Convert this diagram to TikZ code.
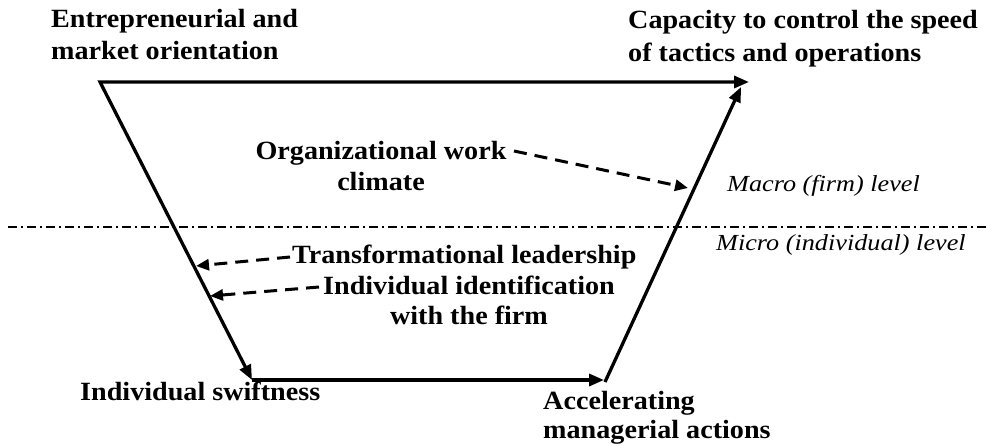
\documentclass[tikz,border=0pt]{standalone}
\usepackage{fontspec}
\setmainfont{Liberation Serif}
\newfontfamily\boldlbl{Liberation Serif}[FakeStretch=1.07]
\newfontfamily\itallbl{Liberation Serif}[FakeStretch=1.14]
\usetikzlibrary{arrows.meta}
\begin{document}
\begin{tikzpicture}[x=1pt,y=-1pt,
  lbl/.style={font=\boldlbl\bfseries\fontsize{26.3}{32}\selectfont, inner sep=0pt, anchor=base west, align=left},
  clbl/.style={font=\boldlbl\bfseries\fontsize{26.3}{31}\selectfont, inner sep=0pt, anchor=base, align=center},
  lvl/.style={font=\itallbl\itshape\fontsize{23}{27}\selectfont, inner sep=0pt, anchor=base west},
  flow/.style={line width=3.3pt, line join=miter},
  tip/.style={-{Triangle[length=15pt,width=12pt]}},
  infl/.style={line width=3pt, dash pattern=on 13pt off 8pt, -{Triangle[length=13pt,width=11pt]}},
  levelsep/.style={line width=1.5pt, dash pattern=on 9pt off 4pt on 2pt off 4pt}]
\useasboundingbox (0,0) rectangle (987,446);
% corners of the boat
\coordinate (A) at (100,82);
\coordinate (B) at (252,380);
\coordinate (C) at (604,380);
\coordinate (Cs) at (605,382);
\coordinate (D) at (741,87);
\coordinate (E) at (749,82);
% level separator
\coordinate (L1) at (8,227);
\coordinate (L2) at (987,227);
\draw[levelsep] (L1) -- (L2);
% labels (base anchor = baseline of the last line)
\node[lbl] (ent) at (51,60) {Entrepreneurial and\\market orientation};
\node[lbl, font=\boldlbl\bfseries\fontsize{26.3}{33}\selectfont] (cap) at (628,62) {Capacity to control the speed\\of tactics and operations};
\node[clbl] (org) at (381,191) {Organizational work\\climate};
\node[lvl] (macro) at (727,192) {Macro (firm) level};
\node[lvl] (micro) at (716,251) {Micro (individual) level};
\node[lbl] (trans) at (292,264) {Transformational leadership};
\node[clbl, font=\boldlbl\bfseries\fontsize{26.3}{30}\selectfont] (ident) at (469,324) {Individual identification\\with the firm};
\node[lbl] (swift) at (80,400) {Individual swiftness};
\node[lbl, font=\boldlbl\bfseries\fontsize{26.3}{29}\selectfont] (accel) at (543,438) {Accelerating\\managerial actions};
% main arrows
\draw[flow, {Triangle[length=15pt,width=12pt]}-{Triangle[length=15pt,width=12pt]}] (B) -- (A) -- (E);
\draw[flow, tip] (B) -- (C);
\draw[flow, tip] (Cs) -- (D);
% influence arrows
\coordinate (o1) at (514,151);
\coordinate (o2) at (688,188);
\coordinate (t1) at (290,257);
\coordinate (t2) at (196,266);
\coordinate (i1) at (319,287);
\coordinate (i2) at (210,296);
\draw[infl] (o1) -- (o2);
\draw[infl] (t1) -- (t2);
\draw[infl] (i1) -- (i2);
\end{tikzpicture}
\end{document}
